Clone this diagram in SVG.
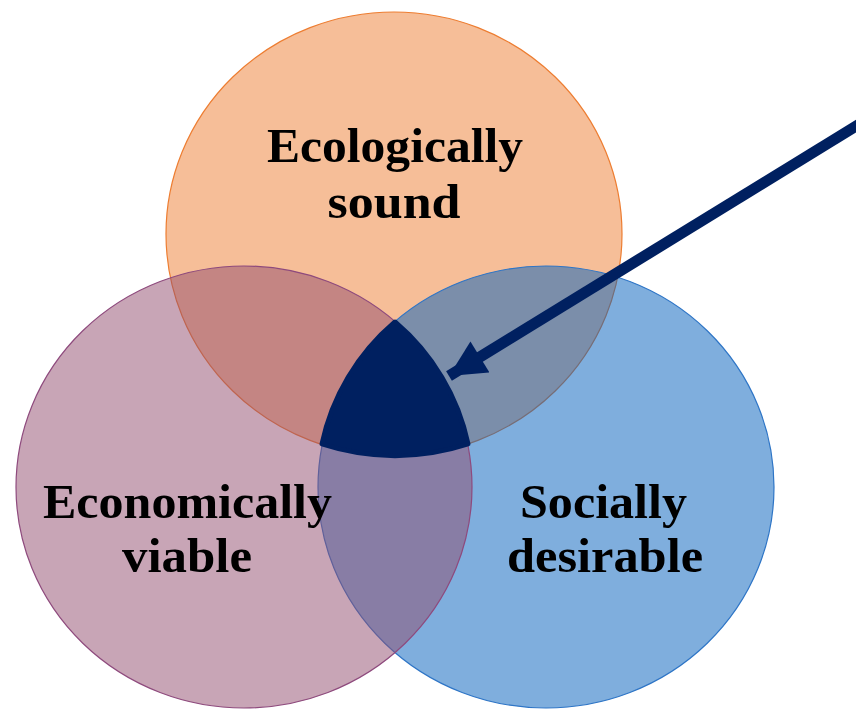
<svg xmlns="http://www.w3.org/2000/svg" width="856" height="710" viewBox="0 0 856 710">
<style>
.lbl{font-family:"Liberation Serif","Times New Roman",serif;font-weight:bold;font-size:48px;fill:#000;text-anchor:middle}
</style>
<defs>
<marker id="ah" viewBox="0 0 10 10" refX="10" refY="5" markerWidth="3.4" markerHeight="3.3" orient="auto" markerUnits="strokeWidth">
<path d="M0,0 L10,5 L0,10 z" fill="#002060"/>
</marker>
</defs>
<rect width="856" height="710" fill="#fff"/>
<g id="ecological">
<ellipse cx="394" cy="234" rx="228" ry="222" fill="#ED7D31" fill-opacity="0.5" stroke="#ED7D31" stroke-width="1.2"/>
</g>
<g id="social">
<ellipse cx="546" cy="487" rx="228" ry="221" fill="#005DBB" fill-opacity="0.5" stroke="#2E75C6" stroke-width="1.2"/>
</g>
<g id="economic">
<ellipse cx="244" cy="487" rx="228" ry="221" fill="#914B6D" fill-opacity="0.5" stroke="#8E4A7D" stroke-width="1.2"/>
</g>
<g id="sustainable">
<path d="M395,322 A228,221 0 0 0 322,444 A228,222 0 0 0 468,444 A228,221 0 0 0 395,322 Z" fill="#002060" stroke="#002060" stroke-width="5" stroke-linejoin="round"/>
</g>
<g id="connectors">
<line x1="866" y1="120" x2="449" y2="376" stroke="#002060" stroke-width="11" marker-end="url(#ah)"/>
</g>
<g id="labels">
<text class="lbl" x="395" y="162" textLength="256" lengthAdjust="spacingAndGlyphs">Ecologically</text>
<text class="lbl" x="394" y="218" textLength="133" lengthAdjust="spacingAndGlyphs">sound</text>
<text class="lbl" x="187.5" y="518" textLength="289" lengthAdjust="spacingAndGlyphs">Economically</text>
<text class="lbl" x="187" y="572" textLength="130" lengthAdjust="spacingAndGlyphs">viable</text>
<text class="lbl" x="603.5" y="518" textLength="167" lengthAdjust="spacingAndGlyphs">Socially</text>
<text class="lbl" x="605" y="572" textLength="196" lengthAdjust="spacingAndGlyphs">desirable</text>
</g>
</svg>
